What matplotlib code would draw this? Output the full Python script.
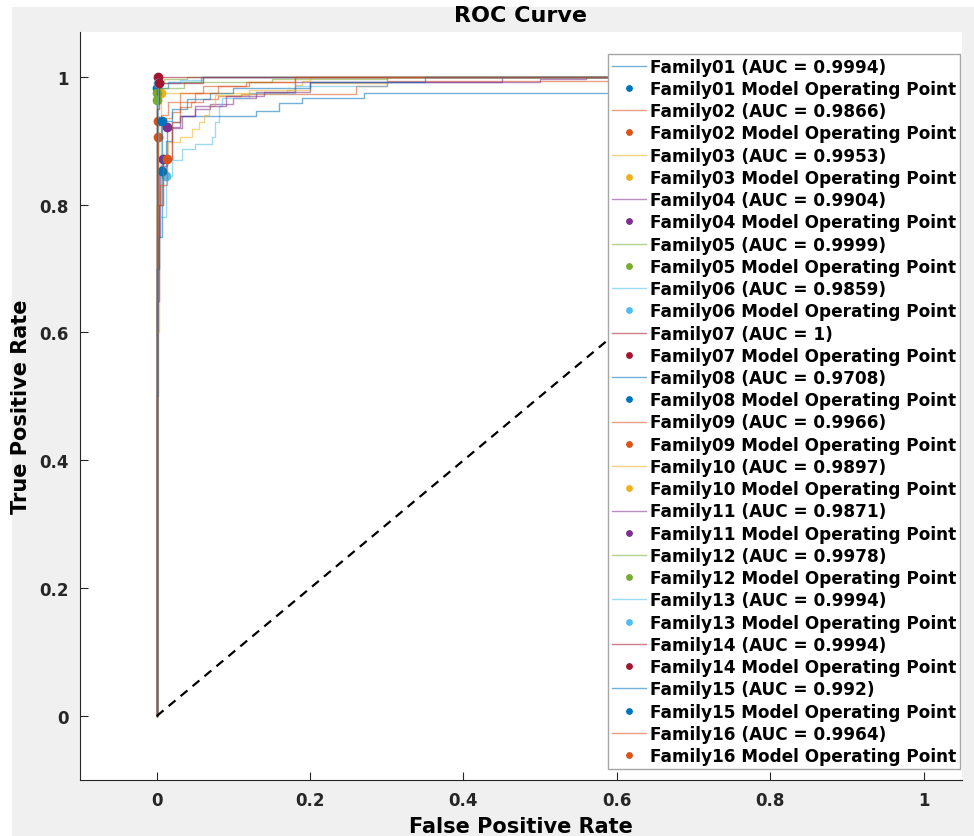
#!/usr/bin/env python3
"""
ROC-кривые для 16 семейств с рабочими точками модели
"""

import matplotlib
matplotlib.use('Agg')
import matplotlib.pyplot as plt
from matplotlib.patches import Rectangle
from matplotlib.ticker import FuncFormatter

# Названия семейств и AUC (как в легенде)
FAMILIES = [f'Family{i:02d}' for i in range(1, 17)]
AUC = [0.9994, 0.9866, 0.9953, 0.9904, 0.9999, 0.9859, 1, 0.9708,
       0.9966, 0.9897, 0.9871, 0.9978, 0.9994, 0.9994, 0.992, 0.9964]

# Рабочие точки модели (FPR, TPR)
OP_FPR = [0.001, 0.002, 0.0056, 0.013, 0.0, 0.012, 0.002, 0.0066,
          0.002, 0.008, 0.008, 0.0, 0.002, 0.003, 0.0075, 0.014]
OP_TPR = [0.982, 0.931, 0.974, 0.922, 0.974, 0.845, 1.0, 0.853,
          0.905, 0.872, 0.872, 0.964, 0.99, 0.99, 0.931, 0.872]

# Точки ROC (ступени: уровень TPR до соответствующего FPR)
fpr01 = [0, 0.001, 0.015, 0.058, 1]
tpr01 = [0, 0.55, 0.982, 0.992, 1]
fpr02 = [0, 0.002, 0.012, 0.02, 0.03, 0.045, 0.06, 0.08, 0.11, 0.26, 0.30, 0.70, 1]
tpr02 = [0, 0.70, 0.931, 0.936, 0.945, 0.953, 0.96, 0.965, 0.97, 0.973, 0.985, 0.994, 1]
fpr03 = [0, 0.0056, 0.17, 0.18, 0.19, 0.2, 1]
tpr03 = [0, 0.80, 0.974, 0.98, 0.987, 0.994, 1]
fpr04 = [0, 0.004, 0.013, 0.03, 0.05, 0.07, 0.10, 0.13, 0.18, 0.45, 1]
tpr04 = [0, 0.75, 0.86, 0.922, 0.939, 0.95, 0.958, 0.966, 0.976, 0.992, 1]
fpr05 = [0, 0.003, 0.01, 0.04, 1]
tpr05 = [0, 0.974, 0.99, 0.997, 1]
fpr06 = [0, 0.003, 0.012, 0.02, 0.033, 0.05, 0.072, 0.076, 0.081, 0.085, 0.12, 0.18, 0.30, 1]
tpr06 = [0, 0.70, 0.78, 0.845, 0.87, 0.887, 0.895, 0.906, 0.93, 0.955, 0.966, 0.975, 0.985, 1]
fpr07 = [0, 1]
tpr07 = [0, 1]
fpr08 = [0, 0.002, 0.0066, 0.012, 0.02, 0.03, 0.13, 0.16, 0.19, 0.27, 0.85, 1]
tpr08 = [0, 0.50, 0.75, 0.853, 0.90, 0.929, 0.939, 0.946, 0.959, 0.966, 0.975, 1]
fpr09 = [0, 0.002, 0.006, 0.015, 0.03, 0.06, 0.12, 0.18, 1]
tpr09 = [0, 0.70, 0.905, 0.94, 0.96, 0.975, 0.985, 0.992, 1]
fpr10 = [0, 0.003, 0.008, 0.015, 0.03, 0.046, 0.055, 0.062, 0.068, 0.076, 0.12, 0.20, 0.30, 1]
tpr10 = [0, 0.60, 0.80, 0.872, 0.898, 0.905, 0.919, 0.929, 0.94, 0.955, 0.971, 0.98, 0.99, 1]
fpr11 = [0, 0.003, 0.008, 0.02, 0.033, 0.05, 0.09, 0.14, 0.2, 0.5, 0.56, 1]
tpr11 = [0, 0.65, 0.80, 0.872, 0.92, 0.939, 0.955, 0.97, 0.976, 0.992, 0.996, 1]
fpr12 = [0, 0.004, 0.035, 0.15, 0.30, 1]
tpr12 = [0, 0.964, 0.983, 0.992, 0.996, 1]
fpr13 = [0, 0.002, 0.03, 0.06, 1]
tpr13 = [0, 0.90, 0.99, 0.995, 1]
fpr14 = [0, 0.003, 0.06, 1]
tpr14 = [0, 0.95, 0.99, 1]
fpr15 = [0, 0.003, 0.0075, 0.02, 0.04, 0.07, 0.1, 0.2, 0.35, 1]
tpr15 = [0, 0.70, 0.85, 0.931, 0.95, 0.965, 0.975, 0.982, 0.992, 1]
fpr16 = [0, 0.004, 0.014, 0.02, 0.03, 0.05, 0.08, 0.117, 0.18, 1]
tpr16 = [0, 0.80, 0.83, 0.872, 0.93, 0.96, 0.975, 0.985, 0.992, 1]

ROC_FPR = [fpr01, fpr02, fpr03, fpr04, fpr05, fpr06, fpr07, fpr08,
           fpr09, fpr10, fpr11, fpr12, fpr13, fpr14, fpr15, fpr16]
ROC_TPR = [tpr01, tpr02, tpr03, tpr04, tpr05, tpr06, tpr07, tpr08,
           tpr09, tpr10, tpr11, tpr12, tpr13, tpr14, tpr15, tpr16]

# Палитра MATLAB по умолчанию
MATLAB_COLORS = ['#0072BD', '#D95319', '#EDB120', '#7E2F8E',
                 '#77AC30', '#4DBEEE', '#A2142F']


def plot_roc(output_path):
    """Рисует ROC-кривые всех семейств"""
    plt.rcParams['font.family'] = ['DejaVu Sans']
    plt.rcParams['font.weight'] = 'bold'

    fig = plt.figure(figsize=(9.74, 8.37), dpi=100)
    fig.patch.set_facecolor('white')
    # Серый фон окна MATLAB
    fig.add_artist(Rectangle((12 / 974, 0), 1, (837 - 8) / 837,
                             transform=fig.transFigure, color='#f0f0f0', zorder=0))

    ax = fig.add_axes([80 / 974, 56 / 837, 882 / 974, 748 / 837])
    ax.set_facecolor('white')

    for i, name in enumerate(FAMILIES):
        color = MATLAB_COLORS[i % len(MATLAB_COLORS)]
        ax.plot(ROC_FPR[i], ROC_TPR[i], drawstyle='steps-pre', color=color,
                linewidth=1.0, alpha=0.55, label=f'{name} (AUC = {AUC[i]:g})')
        ax.plot(OP_FPR[i], OP_TPR[i], linestyle='none', marker='o', markersize=6,
                color=color, label=f'{name} Model Operating Point')

    # Диагональ случайного классификатора
    ax.plot([0, 1], [0, 1], color='black', linestyle='--', linewidth=1.6,
            dashes=(4, 3), label='_nolegend_')

    ax.set_xlim(-0.1, 1.05)
    ax.set_ylim(-0.1, 1.07)
    ax.set_xticks([0, 0.2, 0.4, 0.6, 0.8, 1])
    ax.set_yticks([0, 0.2, 0.4, 0.6, 0.8, 1])
    fmt = FuncFormatter(lambda v, _: f'{v:g}')
    ax.xaxis.set_major_formatter(fmt)
    ax.yaxis.set_major_formatter(fmt)
    ax.tick_params(direction='in', length=6, width=0.8, colors='#262626',
                   labelsize=12, pad=8)
    for side in ['top', 'right']:
        ax.spines[side].set_visible(False)
    for side in ['left', 'bottom']:
        ax.spines[side].set_color('#262626')
        ax.spines[side].set_linewidth(0.8)

    ax.set_title('ROC Curve', fontsize=16, fontweight='bold', pad=8)
    ax.set_xlabel('False Positive Rate', fontsize=15, fontweight='bold', labelpad=5)
    ax.set_ylabel('True Positive Rate', fontsize=15, fontweight='bold', labelpad=6)

    leg = ax.legend(loc='upper right', bbox_to_anchor=(0.998, 0.9706),
                    borderaxespad=0, prop={'size': 12.2, 'weight': 'bold'},
                    handlelength=2.0, handletextpad=0.25, borderpad=0.22,
                    labelspacing=0.25, markerscale=0.65, fancybox=False,
                    edgecolor='#a6a6a6', framealpha=1)
    leg.get_frame().set_linewidth(1.0)

    plt.savefig(output_path, dpi=100)
    plt.close()
    print(f"✅ Сохранено: {output_path}")


def main():
    plot_roc('out.png')


if __name__ == "__main__":
    main()
